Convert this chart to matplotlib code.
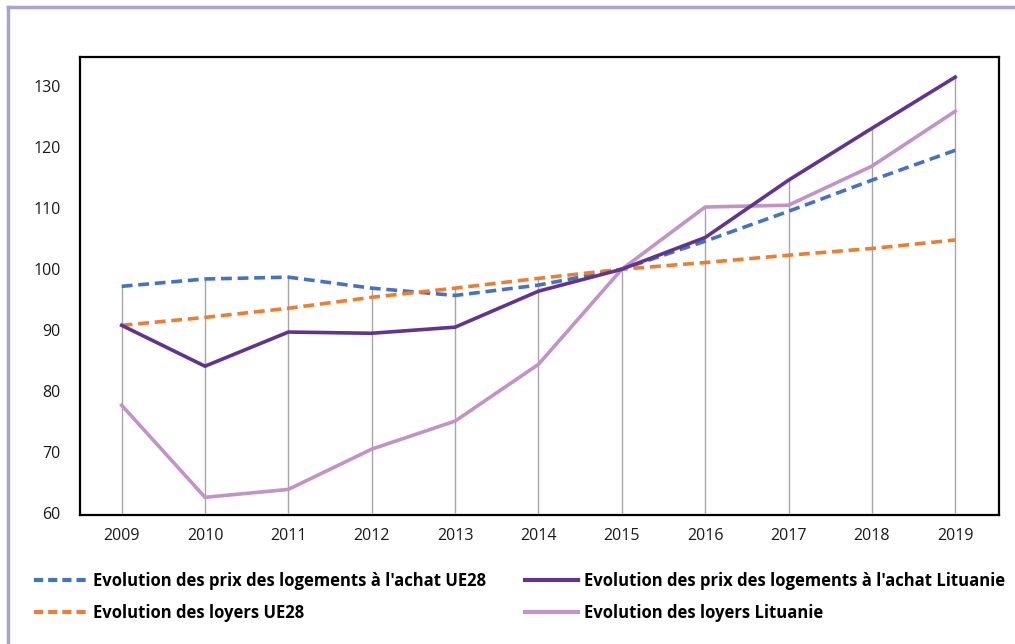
import matplotlib.pyplot as plt
from matplotlib.lines import Line2D

# ---- data ----
years = ["2009", "2010", "2011", "2012", "2013", "2014", "2015", "2016", "2017", "2018", "2019"]
achat_ue28 = [97.2, 98.4, 98.7, 96.9, 95.7, 97.4, 100.0, 104.6, 109.5, 114.6, 119.5]
achat_lt = [90.8, 84.1, 89.7, 89.5, 90.5, 96.4, 100.0, 105.2, 114.6, 123.1, 131.5]
loyers_ue28 = [90.8, 92.1, 93.6, 95.4, 96.9, 98.5, 100.0, 101.1, 102.3, 103.4, 104.8]
loyers_lt = [77.7, 62.6, 63.9, 70.5, 75.1, 84.4, 100.0, 110.2, 110.5, 116.9, 125.9]
yticks = [60, 70, 80, 90, 100, 110, 120, 130]

labels = [
    "Evolution des prix des logements à l'achat UE28",
    "Evolution des prix des logements à l'achat Lituanie",
    "Evolution des loyers UE28",
    "Evolution des loyers Lituanie",
]
colors = ["#4472C4", "#60348F", "#ED7D31", "#C392C6"]

plt.rcParams["font.family"] = ["Open Sans", "DejaVu Sans"]

fig = plt.figure(figsize=(10.15, 6.44), dpi=100)
ax = fig.add_axes([0.0788, 0.2003, 0.905, 0.7112])

x = list(range(len(years)))

# drop lines (max of all series at each year)
tops = [max(v) for v in zip(achat_ue28, achat_lt, loyers_ue28, loyers_lt)]
ax.vlines(x, 60, tops, colors="#A6A6A6", lw=1.0, zorder=1)

ax.plot(x, achat_ue28, color=colors[0], lw=2.6, ls=(0, (3, 1.6)), zorder=3)
ax.plot(x, achat_lt, color=colors[1], lw=2.6, zorder=4)
ax.plot(x, loyers_ue28, color=colors[2], lw=2.6, ls=(0, (3, 1.6)), zorder=3)
ax.plot(x, loyers_lt, color=colors[3], lw=2.6, zorder=2)

ax.set_xlim(-0.5, 10.52)
ax.set_ylim(59.7, 134.8)
ax.set_xticks(x)
ax.set_xticklabels(years)
ax.set_yticks(yticks)
ax.tick_params(axis="both", length=0, labelsize=11.5, colors="#1a1a1a")
ax.tick_params(axis="y", pad=14)
ax.tick_params(axis="x", pad=9)
for s in ax.spines.values():
    s.set_color("black")
    s.set_linewidth(1.6)

# legend
handles = [
    Line2D([], [], color=colors[0], lw=3, ls=(0, (2.2, 1.2))),
    Line2D([], [], color=colors[1], lw=3),
    Line2D([], [], color=colors[2], lw=3, ls=(0, (2.2, 1.2))),
    Line2D([], [], color=colors[3], lw=3),
]
order = [0, 2, 1, 3]
fig.legend([handles[i] for i in order], [labels[i] for i in order],
           ncol=2, loc="upper left", bbox_to_anchor=(0.019, 0.135),
           frameon=False, handlelength=3.2, handletextpad=0.35,
           columnspacing=2.3, labelspacing=0.85,
           prop={"size": 12, "weight": "bold"})

# lavender frame
fig.add_artist(Line2D([0.008, 0.008], [0.0, 0.989], color="#A9A3D3", lw=2.5))
fig.add_artist(Line2D([0.008, 1.0], [0.989, 0.989], color="#A9A3D3", lw=2.5))

fig.savefig("out.png", dpi=100)
